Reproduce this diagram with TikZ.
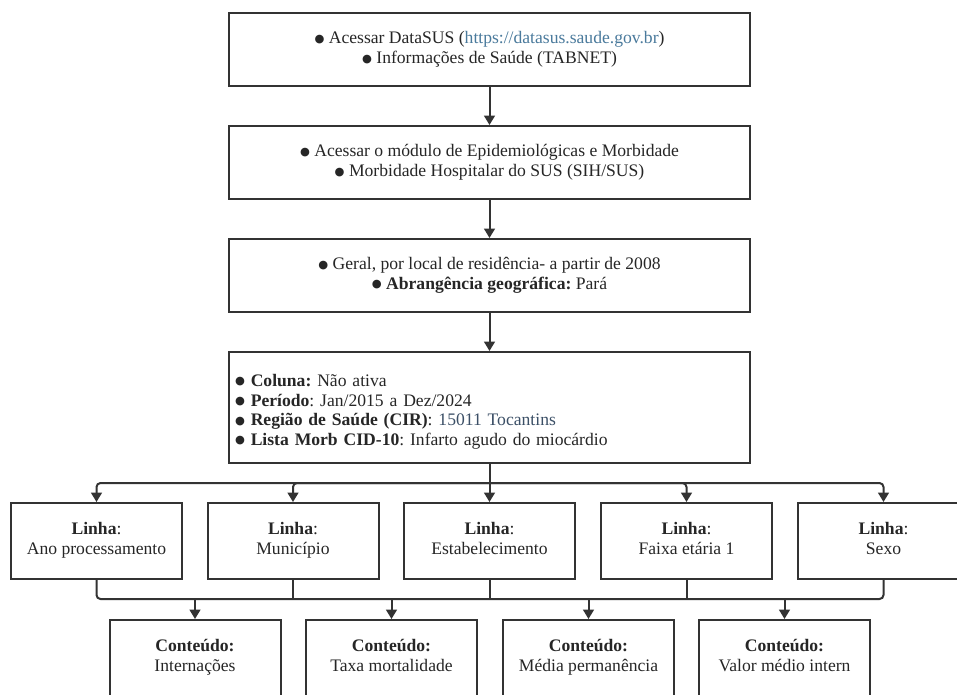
\documentclass[tikz,border=0pt]{standalone}
\usepackage{fontspec}
\setmainfont{Liberation Serif}
\newfontfamily\dotfont{DejaVu Sans}
\usetikzlibrary{arrows.meta,shapes}
\definecolor{linecol}{HTML}{333333}
\definecolor{linkcol}{HTML}{4A7A9C}
\definecolor{cirtext}{HTML}{3B4F66}
\newcommand{\bul}{\raisebox{1.2pt}{\dotfont\fontsize{8.5}{8.5}\selectfont ●}}
\tikzstyle{infobox}=[draw=linecol, line width=1.5pt, fill=white, text=black!85, align=center, minimum width=390.75pt, minimum height=54.75pt, inner sep=2pt]
\tikzstyle{linhabox}=[infobox, minimum width=128.25pt, minimum height=57pt]
\tikzstyle{edge}=[draw=linecol, line width=1.5pt, -]
\tikzstyle{arrow}=[edge, -{Triangle[length=7pt,width=8pt]}]

\begin{document}
\frenchspacing
\begin{tikzpicture}[x=0.75pt, y=-0.75pt, font=\fontsize{13.2}{14.8}\selectfont]
		\useasboundingbox (0,0) rectangle (957,694);
		% First the stacked query boxes
		\node[infobox] (q1) at (489.5,49.5) {\bul{} Acessar DataSUS (\textcolor{linkcol}{https://datasus.saude.gov.br})\\ \bul{} Informações de Saúde (TABNET)};
		\node[infobox] (q2) at (489.5,162.5) {\bul{} Acessar o módulo de Epidemiológicas e Morbidade\\ \bul{} Morbidade Hospitalar do SUS (SIH/SUS)};
		\node[infobox] (q3) at (489.5,275.5) {\bul{} Geral, por local de residência- a partir de 2008\\ \bul{} \textbf{Abrangência geográfica:} Pará};
		\node[infobox, minimum height=83.25pt, text width=381.75pt, align=left, inner xsep=4.5pt] (q4) at (489.5,407.5) {\rule{0pt}{17pt}\bul{} \textbf{Coluna:} Não ativa\\ \bul{} \textbf{Período}: Jan/2015 a Dez/2024\\ \bul{} \textbf{Região de Saúde (CIR)}: \textcolor{cirtext}{15011 Tocantins}\\ \bul{} \textbf{Lista Morb CID-10}: Infarto agudo do miocárdio\strut};
		
		% Then the Linha boxes
		\foreach \pos/\label/\name in {
			{(96.5,541)/l1/Ano processamento}, {(293,541)/l2/Município}, {(489.5,541)/l3/Estabelecimento}, {(686.5,541)/l4/Faixa etária 1}, {(883.5,541)/l5/Sexo}}
		\node[linhabox] (\label) at \pos {\textbf{Linha}:\\ \name\strut};
		
		% And the Conteudo boxes
		\foreach \pos/\label/\name in {
			{(195,658)/c1/Internações}, {(391.5,658)/c2/Taxa mortalidade}, {(588.5,658)/c3/Média permanência}, {(784.5,658)/c4/Valor médio intern}}
		\node[linhabox] (\label) at \pos {\textbf{Conteúdo:}\\ \name\strut};
		
		\coordinate (topbus) at (489.5,483);
		\coordinate (lowbus) at (489.5,599);
		
		% Connect the boxes
		\foreach \source/ \dest in {
			q1/q2, q2/q3, q3/q4}
		\path[arrow] (\source) -- (\dest);
		
		\path[edge] (q4.south) -- (topbus);
		\foreach \dest in {l1, l2, l4, l5}
		\path[arrow, rounded corners=3pt] (topbus) -| (\dest.north);
		\path[arrow] (topbus) -- (l3.north);
		
		\path[edge, rounded corners=3pt] (l1.south) |- (lowbus -| l5.south) -- (l5.south);
		\foreach \source in {l2, l3, l4}
		\path[edge] (\source.south) -- (\source.south |- lowbus);
		\foreach \dest in {c1, c2, c3, c4}
		\path[arrow] (\dest.north |- lowbus) -- (\dest.north);
\end{tikzpicture}
\end{document}
